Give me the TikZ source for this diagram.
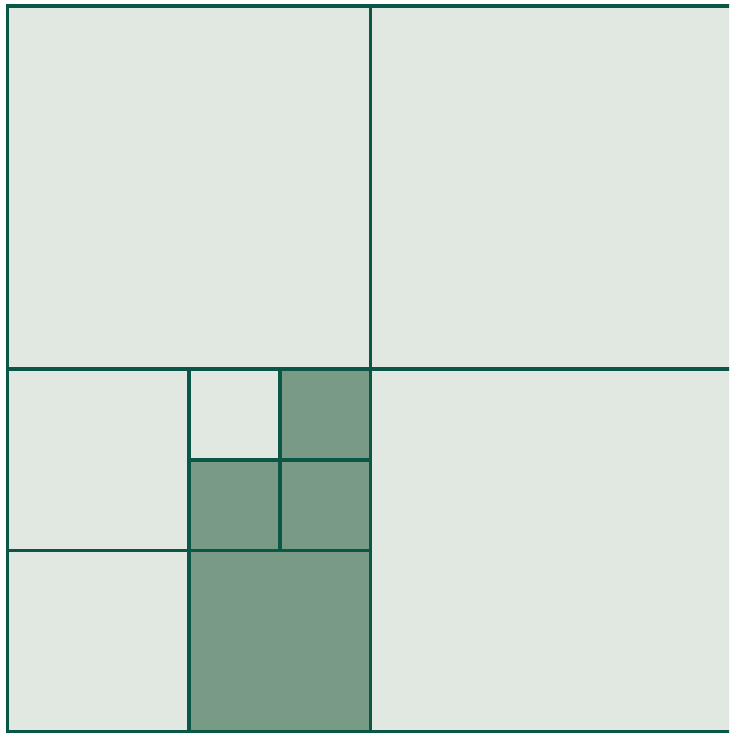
\documentclass[tikz,border=0pt]{standalone}
\definecolor{gridline}{HTML}{0B5747}
\definecolor{lightcell}{HTML}{E1E8E2}
\definecolor{darkcell}{HTML}{799A85}
\begin{document}
\begin{tikzpicture}[x=1pt,y=-1pt,
  gridstroke/.style={draw=gridline,line width=3.6pt},
  shaded/.style={fill=darkcell}]
\useasboundingbox (0,0) rectangle (729,733);
\fill[white] (0,0) rectangle (729,733);
\begin{scope}
\clip (0,0) rectangle (729,733);
% background of the square
\fill[lightcell] (7.5,6) rectangle (733.5,732);
% shaded cells
\fill[shaded] (280,369) rectangle (370.5,460);
\fill[shaded] (189,460) rectangle (280,550.5);
\fill[shaded] (280,460) rectangle (370.5,550.5);
\fill[shaded] (189,550.5) rectangle (370.5,732);
% lines
\draw[gridstroke] (7.5,6) rectangle (733.5,732);
\draw[gridstroke] (370.5,6) -- (370.5,732);
\draw[gridstroke] (7.5,369) -- (733.5,369);
\draw[gridstroke] (189,369) -- (189,732);
\draw[gridstroke] (7.5,550.5) -- (370.5,550.5);
\draw[gridstroke] (280,369) -- (280,550.5);
\draw[gridstroke] (189,460) -- (370.5,460);
\end{scope}
\end{tikzpicture}
\end{document}
